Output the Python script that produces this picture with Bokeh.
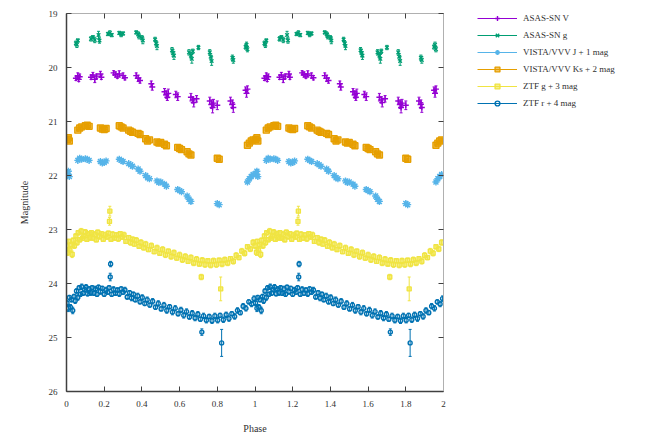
import numpy as np
from bokeh.plotting import figure
from bokeh.layouts import row
from bokeh.models import (ColumnDataSource, Range1d, LinearAxis, FixedTicker,
                          Legend, LegendItem, CustomJSTickFormatter)
from bokeh.embed import file_html
from bokeh.resources import INLINE

# ---- phase-folded photometry (phase, magnitude, error) ----
asg_phase = [0.050, 0.055, 0.060, 0.130, 0.140, 0.150, 0.170, 0.175, 0.220, 0.230, 0.240,
             0.280, 0.290, 0.300, 0.370, 0.380, 0.385, 0.400, 0.405, 0.470, 0.475, 0.480,
             0.560, 0.565, 0.570, 0.650, 0.660, 0.665, 0.670, 0.700, 0.760, 0.765, 0.770,
             0.880, 0.885, 0.950, 0.955, 0.960]
asg_mag = [19.55, 19.58, 19.50, 19.47, 19.44, 19.49, 19.40, 19.50, 19.38, 19.36, 19.40,
           19.36, 19.39, 19.37, 19.35, 19.38, 19.42, 19.45, 19.50, 19.48, 19.55, 19.60,
           19.68, 19.73, 19.78, 19.72, 19.78, 19.84, 19.70, 19.63, 19.72, 19.80, 19.88,
           19.82, 19.86, 19.62, 19.58, 19.66]
asg_err = [0.04, 0.05, 0.03, 0.04, 0.03, 0.05, 0.07, 0.05, 0.03, 0.04, 0.03,
           0.03, 0.04, 0.03, 0.03, 0.04, 0.05, 0.04, 0.06, 0.04, 0.05, 0.07,
           0.05, 0.06, 0.07, 0.05, 0.06, 0.08, 0.04, 0.04, 0.05, 0.06, 0.08,
           0.05, 0.06, 0.04, 0.05, 0.05]

asv_phase = [0.050, 0.060, 0.065, 0.070, 0.130, 0.140, 0.150, 0.160, 0.180, 0.185,
             0.250, 0.260, 0.270, 0.280, 0.300, 0.310, 0.370, 0.380, 0.390, 0.450, 0.455,
             0.520, 0.530, 0.535, 0.540, 0.580, 0.590, 0.660, 0.670, 0.675, 0.690,
             0.760, 0.770, 0.775, 0.780, 0.800, 0.870, 0.880, 0.885, 0.950, 0.955, 0.960]
asv_mag = [20.20, 20.15, 20.22, 20.17, 20.18, 20.14, 20.22, 20.16, 20.12, 20.18,
           20.10, 20.13, 20.16, 20.12, 20.15, 20.19, 20.15, 20.20, 20.24, 20.30, 20.36,
           20.45, 20.50, 20.55, 20.48, 20.50, 20.54, 20.55, 20.60, 20.65, 20.58,
           20.62, 20.68, 20.74, 20.66, 20.70, 20.62, 20.68, 20.74, 20.42, 20.48, 20.40]
asv_err = [0.04, 0.05, 0.04, 0.05, 0.04, 0.05, 0.06, 0.04, 0.05, 0.04,
           0.04, 0.05, 0.04, 0.06, 0.05, 0.04, 0.05, 0.06, 0.05, 0.05, 0.06,
           0.06, 0.07, 0.06, 0.08, 0.06, 0.07, 0.07, 0.06, 0.08, 0.06,
           0.07, 0.08, 0.10, 0.07, 0.08, 0.07, 0.08, 0.09, 0.06, 0.07, 0.06]

nir_phase = [0.005, 0.010, 0.015, 0.060, 0.070, 0.080, 0.100, 0.110, 0.120,
             0.180, 0.190, 0.200, 0.210, 0.280, 0.290, 0.300, 0.330, 0.340, 0.350,
             0.380, 0.390, 0.420, 0.430, 0.440, 0.480, 0.490, 0.500, 0.520, 0.530,
             0.590, 0.600, 0.610, 0.640, 0.650, 0.660, 0.800, 0.810,
             0.960, 0.970, 0.980, 0.990]
j_mag = [21.98, 21.92, 22.02, 21.72, 21.68, 21.70, 21.69, 21.70, 21.72,
         21.74, 21.77, 21.76, 21.73, 21.70, 21.72, 21.74, 21.78, 21.80, 21.83,
         21.88, 21.92, 22.00, 22.04, 22.06, 22.10, 22.13, 22.12, 22.16, 22.20,
         22.26, 22.28, 22.30, 22.38, 22.44, 22.48, 22.52, 22.54,
         22.12, 22.06, 22.02, 21.98]
j_err = [0.02, 0.03, 0.02, 0.02, 0.02, 0.03, 0.02, 0.02, 0.02,
         0.02, 0.03, 0.02, 0.02, 0.02, 0.02, 0.03, 0.02, 0.02, 0.03,
         0.02, 0.03, 0.02, 0.03, 0.02, 0.03, 0.02, 0.03, 0.03, 0.02,
         0.03, 0.02, 0.03, 0.03, 0.03, 0.04, 0.03, 0.03,
         0.03, 0.02, 0.03, 0.02]
k_mag = [21.33, 21.30, 21.36, 21.16, 21.12, 21.10, 21.08, 21.07, 21.09,
         21.12, 21.14, 21.15, 21.13, 21.08, 21.10, 21.12, 21.16, 21.18, 21.20,
         21.22, 21.24, 21.32, 21.36, 21.34, 21.38, 21.40, 21.39, 21.42, 21.45,
         21.48, 21.50, 21.52, 21.56, 21.60, 21.62, 21.68, 21.70,
         21.44, 21.40, 21.36, 21.34]
k_err = [0.03, 0.02, 0.03, 0.02, 0.02, 0.02, 0.02, 0.03, 0.02,
         0.02, 0.02, 0.03, 0.02, 0.02, 0.03, 0.02, 0.02, 0.03, 0.02,
         0.03, 0.02, 0.03, 0.02, 0.03, 0.02, 0.03, 0.02, 0.02, 0.03,
         0.02, 0.03, 0.02, 0.03, 0.02, 0.03, 0.03, 0.02,
         0.02, 0.03, 0.02, 0.03]

zg_phase = [0.000, 0.008, 0.012, 0.018, 0.025, 0.030, 0.036, 0.042, 0.050, 0.056,
            0.062, 0.070, 0.078, 0.085, 0.092, 0.100, 0.108, 0.115, 0.124, 0.132,
            0.140, 0.150, 0.158, 0.166, 0.175, 0.185, 0.195, 0.205, 0.215, 0.222,
            0.228, 0.230, 0.236, 0.245, 0.255, 0.265, 0.275, 0.285, 0.295, 0.305,
            0.315, 0.330, 0.340, 0.350, 0.360, 0.370, 0.385, 0.395, 0.410, 0.420,
            0.435, 0.450, 0.465, 0.480, 0.495, 0.510, 0.525, 0.540, 0.555, 0.570,
            0.585, 0.600, 0.615, 0.630, 0.645, 0.660, 0.675, 0.690, 0.705, 0.715,
            0.720, 0.735, 0.750, 0.765, 0.780, 0.795, 0.810, 0.818, 0.825, 0.840,
            0.855, 0.870, 0.885, 0.900, 0.915, 0.930, 0.945, 0.960, 0.975, 0.990]
zg_mag = [23.30, 23.42, 23.22, 23.38, 23.28, 23.46, 23.20, 23.30, 23.12, 23.24,
          23.06, 23.19, 23.03, 23.16, 23.12, 23.05, 23.18, 23.08, 23.15, 23.06,
          23.16, 23.09, 23.19, 23.05, 23.13, 23.08, 23.18, 23.10, 23.14, 23.07,
          22.85, 22.66, 23.18, 23.09, 23.16, 23.10, 23.17, 23.08, 23.14, 23.10,
          23.22, 23.15, 23.24, 23.18, 23.27, 23.20, 23.31, 23.24, 23.34, 23.27,
          23.37, 23.30, 23.41, 23.34, 23.44, 23.37, 23.47, 23.40, 23.50, 23.43,
          23.53, 23.47, 23.56, 23.50, 23.59, 23.52, 23.62, 23.55, 23.64, 23.88,
          23.57, 23.65, 23.58, 23.66, 23.58, 23.65, 23.57, 24.10, 23.64, 23.56,
          23.62, 23.54, 23.59, 23.48, 23.52, 23.40, 23.44, 23.32, 23.36, 23.24]
zg_err = [0.05, 0.06, 0.04, 0.05, 0.04, 0.06, 0.04, 0.05, 0.04, 0.05,
          0.04, 0.04, 0.05, 0.04, 0.04, 0.05, 0.04, 0.04, 0.05, 0.04,
          0.04, 0.05, 0.04, 0.04, 0.05, 0.04, 0.04, 0.05, 0.04, 0.04,
          0.07, 0.09, 0.04, 0.05, 0.04, 0.04, 0.05, 0.04, 0.04, 0.05,
          0.04, 0.04, 0.05, 0.04, 0.04, 0.05, 0.04, 0.05, 0.04, 0.05,
          0.04, 0.05, 0.04, 0.05, 0.04, 0.05, 0.05, 0.04, 0.05, 0.05,
          0.04, 0.05, 0.05, 0.05, 0.04, 0.05, 0.05, 0.05, 0.04, 0.05,
          0.05, 0.05, 0.04, 0.05, 0.05, 0.05, 0.04, 0.22, 0.05, 0.05,
          0.05, 0.04, 0.05, 0.05, 0.04, 0.05, 0.05, 0.04, 0.05, 0.05]

zr_phase = [0.003, 0.010, 0.015, 0.021, 0.027, 0.033, 0.040, 0.046, 0.053, 0.060,
            0.067, 0.074, 0.081, 0.088, 0.096, 0.104, 0.112, 0.120, 0.128, 0.136,
            0.145, 0.154, 0.162, 0.170, 0.180, 0.190, 0.200, 0.210, 0.218, 0.226,
            0.232, 0.234, 0.240, 0.250, 0.260, 0.270, 0.280, 0.290, 0.300, 0.310,
            0.322, 0.335, 0.345, 0.355, 0.365, 0.378, 0.390, 0.402, 0.415, 0.428,
            0.442, 0.457, 0.472, 0.487, 0.502, 0.517, 0.532, 0.547, 0.562, 0.577,
            0.592, 0.607, 0.622, 0.637, 0.652, 0.667, 0.682, 0.697, 0.710, 0.718,
            0.727, 0.742, 0.757, 0.772, 0.787, 0.802, 0.815, 0.823, 0.832, 0.847,
            0.862, 0.877, 0.892, 0.907, 0.922, 0.937, 0.952, 0.967, 0.982, 0.995]
zr_mag = [24.36, 24.46, 24.26, 24.44, 24.30, 24.50, 24.24, 24.32, 24.14, 24.26,
          24.08, 24.20, 24.06, 24.18, 24.11, 24.07, 24.19, 24.10, 24.17, 24.08,
          24.18, 24.10, 24.20, 24.07, 24.15, 24.09, 24.20, 24.12, 24.16, 24.08,
          23.88, 23.64, 24.20, 24.11, 24.18, 24.12, 24.19, 24.10, 24.16, 24.12,
          24.25, 24.17, 24.27, 24.20, 24.30, 24.23, 24.34, 24.26, 24.37, 24.30,
          24.40, 24.33, 24.44, 24.37, 24.47, 24.40, 24.50, 24.43, 24.53, 24.46,
          24.56, 24.49, 24.59, 24.52, 24.62, 24.55, 24.64, 24.57, 24.66, 24.90,
          24.60, 24.68, 24.61, 24.69, 24.60, 24.68, 24.59, 25.10, 24.67, 24.58,
          24.65, 24.56, 24.61, 24.50, 24.54, 24.42, 24.46, 24.34, 24.38, 24.28]
zr_err = [0.05, 0.06, 0.04, 0.05, 0.04, 0.06, 0.04, 0.05, 0.04, 0.05,
          0.04, 0.04, 0.05, 0.04, 0.04, 0.05, 0.04, 0.04, 0.05, 0.04,
          0.04, 0.05, 0.04, 0.04, 0.05, 0.04, 0.04, 0.05, 0.04, 0.04,
          0.07, 0.05, 0.04, 0.05, 0.04, 0.04, 0.05, 0.04, 0.04, 0.05,
          0.04, 0.04, 0.05, 0.04, 0.04, 0.05, 0.04, 0.05, 0.04, 0.05,
          0.04, 0.05, 0.04, 0.05, 0.04, 0.05, 0.05, 0.04, 0.05, 0.05,
          0.04, 0.05, 0.05, 0.05, 0.04, 0.05, 0.05, 0.05, 0.04, 0.06,
          0.05, 0.05, 0.04, 0.05, 0.05, 0.05, 0.04, 0.25, 0.05, 0.05,
          0.05, 0.04, 0.05, 0.05, 0.04, 0.05, 0.05, 0.04, 0.05, 0.05]

series_labels = ["ASAS-SN V", "ASAS-SN g", "VISTA/VVV J + 1 mag",
                 "VISTA/VVV Ks + 2 mag", "ZTF g + 3 mag", "ZTF r + 4 mag"]
x_ticks = [0, 0.2, 0.4, 0.6, 0.8, 1.0, 1.2, 1.4, 1.6, 1.8, 2.0]
y_ticks = [19, 20, 21, 22, 23, 24, 25, 26]

FONT = "Liberation Serif"


def folded(phase, mag, err):
    """Repeat one cycle so two full periods are shown."""
    ph = np.asarray(phase, dtype=float)
    m = np.asarray(mag, dtype=float)
    e = np.asarray(err, dtype=float)
    x = np.concatenate([ph, ph + 1.0])
    y = np.concatenate([m, m])
    ee = np.concatenate([e, e])
    return ColumnDataSource(dict(x=x, y=y, lo=y - ee, hi=y + ee))


p = figure(width=451, height=436, output_backend="svg", toolbar_location=None,
           x_range=Range1d(0, 2), y_range=Range1d(26, 19),
           min_border_left=66, min_border_right=8, min_border_top=13,
           min_border_bottom=45)
p.xgrid.visible = False
p.ygrid.visible = False
p.outline_line_color = None
p.background_fill_color = "white"
p.border_fill_color = "white"

# legend lives in a narrow companion panel to the right of the light curves
lg = figure(width=195, height=436, output_backend="svg", toolbar_location=None,
            x_axis_type=None, y_axis_type=None,
            x_range=Range1d(0, 1), y_range=Range1d(0, 1),
            min_border_left=0, min_border_right=0, min_border_top=0,
            min_border_bottom=0)
lg.xgrid.visible = False
lg.ygrid.visible = False
lg.outline_line_color = None
lg.border_fill_color = "white"

styles = [
    (asv_phase, asv_mag, asv_err, "#9400d3", "cross", None, 6),
    (asg_phase, asg_mag, asg_err, "#009e73", "x", None, 5),
    (nir_phase, j_mag, j_err, "#56b4e9", "asterisk", None, 7),
    (nir_phase, k_mag, k_err, "#e69f00", "square", "#e69f00", 6),
    (zg_phase, zg_mag, zg_err, "#f0e442", "square", "#f0e442", 4),
    (zr_phase, zr_mag, zr_err, "#0072b2", "circle", None, 4),
]

items = []
for (ph, mg, er, col, mk, fill, sz), lab in zip(styles, series_labels):
    src = folded(ph, mg, er)
    p.segment(x0="x", y0="lo", x1="x", y1="hi", source=src,
              line_color=col, line_width=1)
    p.scatter(x="x", y="lo", source=src, marker="dash", size=3,
              line_color=col, line_width=1)
    p.scatter(x="x", y="hi", source=src, marker="dash", size=3,
              line_color=col, line_width=1)
    p.scatter(x="x", y="y", source=src, marker=mk, size=sz,
              line_color=col, fill_color=fill, fill_alpha=0.6, line_width=1.4)
    # key glyphs for the legend panel: a single undefined (NaN) row, so
    # nothing is plotted but the legend can render bar + symbol
    key = ColumnDataSource(dict(x=[float("nan")], y=[float("nan")]))
    kb = lg.segment(x0="x", y0="y", x1="x", y1="y", source=key,
                    line_color=col, line_width=1)
    kp = lg.scatter(x="x", y="y", source=key, marker=mk, size=sz,
                    line_color=col, fill_color=fill, fill_alpha=0.6,
                    line_width=1.4)
    items.append(LegendItem(label=lab, renderers=[kb, kp]))

# main axes
for ax in (p.xaxis[0], p.yaxis[0]):
    ax.axis_line_color = "#404040"
    ax.axis_line_width = 1.5
    ax.major_tick_in = 5
    ax.major_tick_out = 0
    ax.minor_tick_line_color = None
    ax.major_tick_line_color = "#404040"
    ax.major_label_text_font = FONT
    ax.major_label_text_font_size = "9px"
    ax.major_label_text_color = "#303030"
    ax.axis_label_text_font = FONT
    ax.axis_label_text_font_size = "10px"
    ax.axis_label_text_font_style = "normal"
    ax.axis_label_text_color = "#303030"

p.xaxis[0].ticker = FixedTicker(ticks=x_ticks)
p.xaxis[0].major_label_overrides = {0: "0", 1: "1", 2: "2"}
p.xaxis[0].axis_label = "Phase"
p.xaxis[0].major_label_standoff = 9
p.xaxis[0].axis_label_standoff = 13
p.yaxis[0].ticker = FixedTicker(ticks=y_ticks)
p.yaxis[0].axis_label = "Magnitude"
p.yaxis[0].major_label_standoff = 9
p.yaxis[0].axis_label_standoff = 16

# mirrored tick marks on the top and right borders
blank = CustomJSTickFormatter(code="return ''")
top = LinearAxis(ticker=FixedTicker(ticks=x_ticks), formatter=blank)
right = LinearAxis(ticker=FixedTicker(ticks=y_ticks), formatter=blank)
for ax in (top, right):
    ax.axis_line_color = "#b0b0b0"
    ax.axis_line_width = 1
    ax.major_tick_in = 5
    ax.major_tick_out = 0
    ax.major_tick_line_color = "#404040"
    ax.minor_tick_line_color = None
    ax.major_label_text_font_size = "0px"
    ax.major_label_standoff = 0
p.add_layout(top, "above")
p.add_layout(right, "right")

# legend block: offset from the panel's lower-left corner (screen px)
legend = Legend(items=items, location=(26, 282), orientation="vertical")
legend.label_text_font = FONT
legend.label_text_font_size = "9px"
legend.label_text_color = "#303030"
legend.glyph_width = 40
legend.glyph_height = 12
legend.spacing = 5
legend.label_standoff = 6
legend.padding = 2
legend.margin = 0
legend.border_line_color = None
legend.background_fill_alpha = 0
lg.add_layout(legend)

layout = row(p, lg, spacing=0)
open("out.html", "w").write(file_html(layout, INLINE))
